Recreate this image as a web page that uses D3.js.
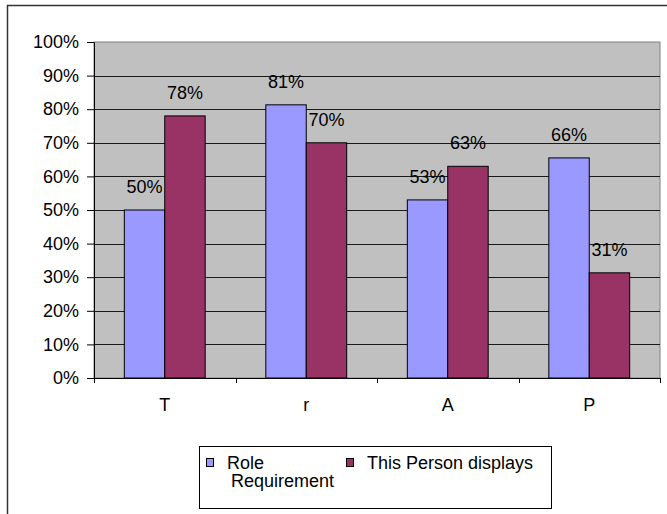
<!DOCTYPE html>
<html>
<head>
<meta charset="utf-8">
<script src="https://cdn.jsdelivr.net/npm/d3@7"></script>
<style>
  body { margin: 0; background: #fff; }
  svg { display: block; font-family: "Liberation Sans", Arial, sans-serif; }
</style>
</head>
<body>
<div id="chart"></div>
<script>
// chart data
var categories = ["T", "r", "A", "P"];
var seriesNames = ["Role Requirement", "This Person displays"];
var roleValues = [0.50, 0.813, 0.53, 0.655];
var personValues = [0.78, 0.70, 0.63, 0.313];
var yTicks = [0, 0.1, 0.2, 0.3, 0.4, 0.5, 0.6, 0.7, 0.8, 0.9, 1.0];

var colors = ["#9999FF", "#993366"];
var width = 667, height = 514;
var plotLeft = 94, plotRight = 660, plotTop = 42, plotBottom = 378;

var svg = d3.select("#chart").append("svg")
  .attr("width", width)
  .attr("height", height);

svg.append("rect")
  .attr("width", width).attr("height", height)
  .style("fill", "#fff");

// outer chart border
svg.append("rect")
  .attr("x", 7.5).attr("y", 5.5)
  .attr("width", 720).attr("height", 600)
  .style("fill", "none")
  .style("stroke", "#333")
  .style("stroke-width", 1.5);

var y = d3.scaleLinear().domain([0, 1]).range([plotBottom, plotTop]);
var x0 = d3.scaleBand().domain(categories).range([plotLeft, plotRight]).padding(0);
var x1 = d3.scaleBand().domain([0, 1]).range([0, x0.bandwidth()])
  .paddingInner(0).paddingOuter(0.75);

// plot area
svg.append("rect")
  .attr("x", plotLeft).attr("y", plotTop)
  .attr("width", plotRight - plotLeft).attr("height", plotBottom - plotTop)
  .style("fill", "#C0C0C0")
  .style("stroke", "#808080")
  .style("stroke-width", 1);

// gridlines
svg.append("g").selectAll("line")
  .data(yTicks.filter(function(d) { return d > 0 && d < 1; }))
  .enter().append("line")
    .attr("x1", plotLeft).attr("x2", plotRight)
    .attr("y1", function(d) { return Math.round(y(d)) + 0.5; })
    .attr("y2", function(d) { return Math.round(y(d)) + 0.5; })
    .style("stroke", "#1a1a1a");

// y axis
var yAxis = d3.axisLeft(y)
  .tickValues(yTicks)
  .tickFormat(d3.format(".0%"))
  .tickSizeInner(7).tickSizeOuter(0).tickPadding(8);

var yg = svg.append("g")
  .attr("transform", "translate(" + plotLeft + ",0)")
  .attr("font-family", null)
  .attr("font-size", null)
  .call(yAxis);
yg.select(".domain").style("stroke", "#000");
yg.selectAll("text").style("font-size", "18px").style("fill", "#000");

// bottom axis line with ticks at category boundaries
var xg = svg.append("g");
xg.append("line")
  .attr("x1", plotLeft).attr("x2", plotRight)
  .attr("y1", plotBottom + 0.5).attr("y2", plotBottom + 0.5)
  .style("stroke", "#000");
var bounds = categories.map(function(c) { return x0(c); }).concat([plotRight]);
xg.selectAll("line.tick")
  .data(bounds)
  .enter().append("line")
    .attr("class", "tick")
    .attr("x1", function(d) { return Math.round(d) + 0.5; })
    .attr("x2", function(d) { return Math.round(d) + 0.5; })
    .attr("y1", plotBottom).attr("y2", plotBottom + 5)
    .style("stroke", "#000");
xg.selectAll("text")
  .data(categories)
  .enter().append("text")
    .attr("x", function(d) { return x0(d) + x0.bandwidth() / 2; })
    .attr("y", 411)
    .attr("text-anchor", "middle")
    .style("font-size", "18px")
    .text(function(d) { return d; });

// bars
var rows = categories.map(function(c, i) {
  return { cat: c, vals: [roleValues[i], personValues[i]] };
});

var groups = svg.selectAll("g.cat")
  .data(rows)
  .enter().append("g")
    .attr("class", "cat")
    .attr("transform", function(d) { return "translate(" + x0(d.cat) + ",0)"; });

groups.selectAll("rect")
  .data(function(d) { return d.vals; })
  .enter().append("rect")
    .attr("x", function(d, i) { return x1(i); })
    .attr("width", x1.bandwidth())
    .attr("y", function(d) { return y(d); })
    .attr("height", function(d) { return plotBottom - y(d); })
    .style("fill", function(d, i) { return colors[i]; })
    .style("stroke", "#000")
    .style("stroke-width", 1);

groups.selectAll("text")
  .data(function(d) { return d.vals; })
  .enter().append("text")
    .attr("x", function(d, i) { return x1(i) + x1.bandwidth() / 2; })
    .attr("y", function(d) { return y(d) - 17; })
    .attr("text-anchor", "middle")
    .style("font-size", "18px")
    .text(function(d) { return Math.round(d * 100) + "%"; });

// legend
var legend = svg.append("g");
legend.append("rect")
  .attr("x", 199.5).attr("y", 446.5)
  .attr("width", 352).attr("height", 62)
  .style("fill", "#fff")
  .style("stroke", "#000");

var legendItems = [
  { lines: ["Role", "Requirement"], sx: 206, tx: [227, 231] },
  { lines: ["This Person displays"], sx: 346, tx: [367] }
];
legendItems.forEach(function(item, i) {
  legend.append("rect")
    .attr("x", item.sx + 0.5).attr("y", 458.5)
    .attr("width", 7).attr("height", 8)
    .style("fill", colors[i])
    .style("stroke", "#000");
  item.lines.forEach(function(t, j) {
    legend.append("text")
      .attr("x", item.tx[j])
      .attr("y", 469 + j * 17.5)
      .style("font-size", "18px")
      .text(t);
  });
});
</script>
</body>
</html>
